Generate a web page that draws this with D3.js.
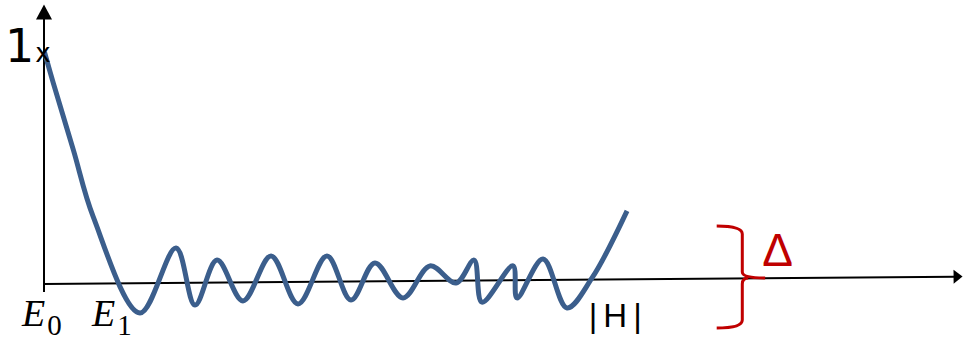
<!DOCTYPE html>
<html>
<head>
<meta charset="utf-8">
<script src="https://cdn.jsdelivr.net/npm/d3@7"></script>
<style>
  html, body { margin: 0; padding: 0; background: #fff; }
  svg { display: block; }
</style>
</head>
<body>
<svg id="chart" width="963" height="341"></svg>
<script>
// Energy (x) and amplitude (y) of the sketched spectral function
const energy = [0.05, 1.02, 3.21, 5.39, 10.5, 14.44, 16.52, 18.93, 21.77, 24.84, 27.79,
  30.96, 33.59, 36.21, 39.28, 42.23, 45.08, 47.05, 47.92, 51.31, 51.75, 54.6, 57.22, 59.96, 63.79];
const amplitude = [1.0, 0.866, 0.578, 0.289, -0.125, 0.155, -0.091, 0.103, -0.073, 0.121, -0.086,
  0.121, -0.069, 0.091, -0.06, 0.078, 0.004, 0.103, -0.078, 0.078, -0.06, 0.108, -0.103, 0.026, 0.315];

// Axis ends (x axis drifts slightly upward to the right)
const xAxisStart = [0, 0];
const xAxisEnd = [100.5, 0.032];
const yAxisEnd = [0, 1.205];
const yAxisBottom = [0, -0.035];

// Gap marker (brace) in data units
const braceX = 76.4, braceLeft = 73.6, braceTip = 78.9;
const braceTop = 0.25, braceMid = 0.026, braceBottom = -0.19;

// Labels
const xLabels = [
  { e: 0, text: "E", sub: "0" },
  { e: 7.66, text: "E", sub: "1" }
];
const hLabel = "|H|";
const gapLabel = "Δ";
const oneLabel = "1";

const svg = d3.select("#chart");
const x = d3.scaleLinear().domain([0, 100]).range([44, 958]);
const y = d3.scaleLinear().domain([0, 1]).range([284, 52]);

const blue = "#3b5e8c";
const red = "#c00000";

// Axes
function arrowHead(tip, dir, len, half) {
  const [tx, ty] = tip;
  const n = Math.hypot(dir[0], dir[1]);
  const ux = dir[0] / n, uy = dir[1] / n;
  const bx = tx - ux * len, by = ty - uy * len;
  return `M${tx},${ty}L${bx - uy * half},${by + ux * half}L${bx + uy * half},${by - ux * half}Z`;
}

svg.append("line")
  .attr("x1", x(yAxisBottom[0])).attr("y1", y(yAxisBottom[1]))
  .attr("x2", x(yAxisEnd[0])).attr("y2", y(yAxisEnd[1]) + 12)
  .attr("stroke", "#000").attr("stroke-width", 2);
svg.append("path")
  .attr("d", arrowHead([x(yAxisEnd[0]), y(yAxisEnd[1])], [0, -1], 15, 8))
  .attr("fill", "#000");

const xs = [x(xAxisStart[0]), y(xAxisStart[1])];
const xe = [x(xAxisEnd[0]), y(xAxisEnd[1])];
const dx = xe[0] - xs[0], dy = xe[1] - xs[1];
const dl = Math.hypot(dx, dy);
svg.append("line")
  .attr("x1", xs[0]).attr("y1", xs[1])
  .attr("x2", xe[0] - dx / dl * 8).attr("y2", xe[1] - dy / dl * 8)
  .attr("stroke", "#000").attr("stroke-width", 2);
svg.append("path")
  .attr("d", arrowHead(xe, [dx, dy], 9, 7))
  .attr("fill", "#000");

// Curve
const pts = energy.map((e, i) => [e, amplitude[i]]);
const line = d3.line()
  .x(d => x(d[0])).y(d => y(d[1]))
  .curve(d3.curveCatmullRom.alpha(0.5));
svg.append("path")
  .datum(pts)
  .attr("d", line)
  .attr("fill", "none")
  .attr("stroke", blue)
  .attr("stroke-width", 5)
  .attr("stroke-linecap", "butt")
  .attr("stroke-linejoin", "round");

// "1" with tick mark on the y axis
svg.append("text")
  .attr("x", 5).attr("y", 62)
  .attr("font-family", "DejaVu Sans").attr("font-size", 46)
  .attr("fill", "#000").text(oneLabel);
svg.append("text")
  .attr("x", x(0) - 1).attr("y", y(1) + 10)
  .attr("text-anchor", "middle")
  .attr("font-family", "DejaVu Sans").attr("font-size", 26)
  .attr("fill", "#000").text("x");

// Energy labels
xLabels.forEach(l => {
  const t = svg.append("text")
    .attr("x", x(l.e) - 22).attr("y", 326)
    .attr("font-family", "Liberation Serif").attr("font-size", 38)
    .attr("fill", "#000");
  t.append("tspan").attr("font-style", "italic").text(l.text);
  t.append("tspan").attr("dx", 2).attr("dy", 9).attr("font-size", 29).text(l.sub);
});

svg.append("text")
  .attr("x", x(59.6)).attr("y", 327)
  .attr("font-family", "Liberation Sans").attr("font-size", 33)
  .attr("letter-spacing", 6)
  .attr("fill", "#000").text(hLabel);

// Brace marking the gap
const bx = x(braceX), bl = x(braceLeft), bt = x(braceTip);
const yt = y(braceTop), ym = y(braceMid), yb = y(braceBottom);
const brace = `M${bl},${yt} Q${bx},${yt} ${bx},${yt + 8}` +
  ` L${bx},${ym - 6} Q${bx},${ym} ${bt},${ym}` +
  ` M${bx},${ym + 6} Q${bx},${ym} ${bx + 6},${ym}` +
  ` M${bx},${ym + 6} L${bx},${yb - 8} Q${bx},${yb} ${bl},${yb}`;
svg.append("path")
  .attr("d", brace)
  .attr("fill", "none")
  .attr("stroke", red)
  .attr("stroke-width", 3);

svg.append("text")
  .attr("x", x(78.9) - 3).attr("y", 266)
  .attr("font-family", "Liberation Sans").attr("font-size", 46)
  .attr("fill", red).text(gapLabel);
</script>
</body>
</html>
